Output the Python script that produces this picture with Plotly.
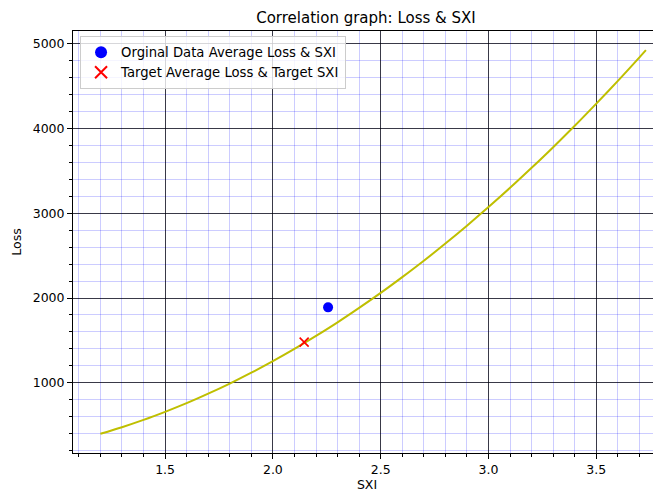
import plotly.graph_objects as go

# Fitted curve (SXI vs Loss)
curve_sxi = [1.2, 1.3, 1.4, 1.5, 1.6, 1.7, 1.8, 1.9, 2.0, 2.1, 2.2, 2.3, 2.4, 2.5,
             2.6, 2.7, 2.8, 2.9, 3.0, 3.1, 3.2, 3.3, 3.4, 3.5, 3.6, 3.7, 3.73]
curve_loss = [400, 478, 564, 659, 761, 873, 992, 1120, 1256, 1400, 1553, 1713, 1883, 2060,
              2246, 2439, 2642, 2852, 3071, 3298, 3534, 3777, 4029, 4290, 4558, 4835, 4920]

orig_sxi = [2.256]
orig_loss = [1890]
target_sxi = [2.145]
target_loss = [1480]

x_ticks = [1.5, 2.0, 2.5, 3.0, 3.5]
y_ticks = [1000, 2000, 3000, 4000, 5000]

FONT = "DejaVu Sans"
W, H = 661, 491
OFF = 8  # page body margin

fig = go.Figure()
fig.add_trace(go.Scatter(x=curve_sxi, y=curve_loss, mode="lines",
                         line=dict(color="#bfbf00", width=2, shape="spline", smoothing=0.8),
                         showlegend=False, hoverinfo="skip"))
fig.add_trace(go.Scatter(x=orig_sxi, y=orig_loss, mode="markers",
                         name="Orginal Data Average Loss & SXI",
                         marker=dict(color="blue", size=10, symbol="circle")))
fig.add_trace(go.Scatter(x=target_sxi, y=target_loss, mode="markers",
                         name="Target Average Loss & Target SXI",
                         marker=dict(color="red", size=9, symbol="x-thin",
                                     line=dict(color="red", width=1.6))))

fig.update_layout(
    width=W, height=H,
    paper_bgcolor="white", plot_bgcolor="white",
    margin=dict(l=73 - OFF, r=OFF, t=31 - OFF, b=H - (453 - OFF), autoexpand=False),
    font=dict(family=FONT, size=12, color="black"),
    title=dict(text="Correlation graph: Loss & SXI", x=(366 - OFF) / W, xanchor="center",
               y=1 - (18 - OFF) / H, yanchor="middle", font=dict(size=15, family=FONT)),
    legend=dict(x=0.012, y=0.988, xanchor="left", yanchor="top",
                bgcolor="rgba(255,255,255,0.8)", bordercolor="#cccccc", borderwidth=1,
                font=dict(size=13.2, family=FONT), itemsizing="constant",
                tracegroupgap=0),
    showlegend=True,
)

fig.update_xaxes(
    range=[1.073, 3.80], tickvals=x_ticks, ticktext=[f"{v:.1f}" for v in x_ticks],
    automargin=False,
    showline=True, linecolor="black", linewidth=1, mirror=True,
    ticks="outside", ticklen=5, tickcolor="black", tickwidth=1,
    showgrid=True, gridcolor="rgba(0,0,0,0.72)", gridwidth=1.4,
    zeroline=False, tickfont=dict(size=12.5),
    minor=dict(dtick=0.1, tick0=1.0, ticks="outside", ticklen=3, tickcolor="black",
               showgrid=True, gridcolor="rgba(0,0,255,0.2)", gridwidth=1),
    title=dict(text="SXI", font=dict(size=12.5), standoff=4),
)
fig.update_yaxes(
    range=[174, 5146], tickvals=y_ticks,
    automargin=False,
    showline=True, linecolor="black", linewidth=1, mirror=False,
    ticks="outside", ticklen=5, tickcolor="black", tickwidth=1,
    showgrid=True, gridcolor="rgba(0,0,0,0.72)", gridwidth=1.4,
    zeroline=False, tickfont=dict(size=12.5),
    minor=dict(dtick=200, tick0=0, ticks="outside", ticklen=3, tickcolor="black",
               showgrid=True, gridcolor="rgba(0,0,255,0.2)", gridwidth=1),
    title=dict(text="Loss", font=dict(size=12.5), standoff=8),
)

fig.write_html("out.html")
